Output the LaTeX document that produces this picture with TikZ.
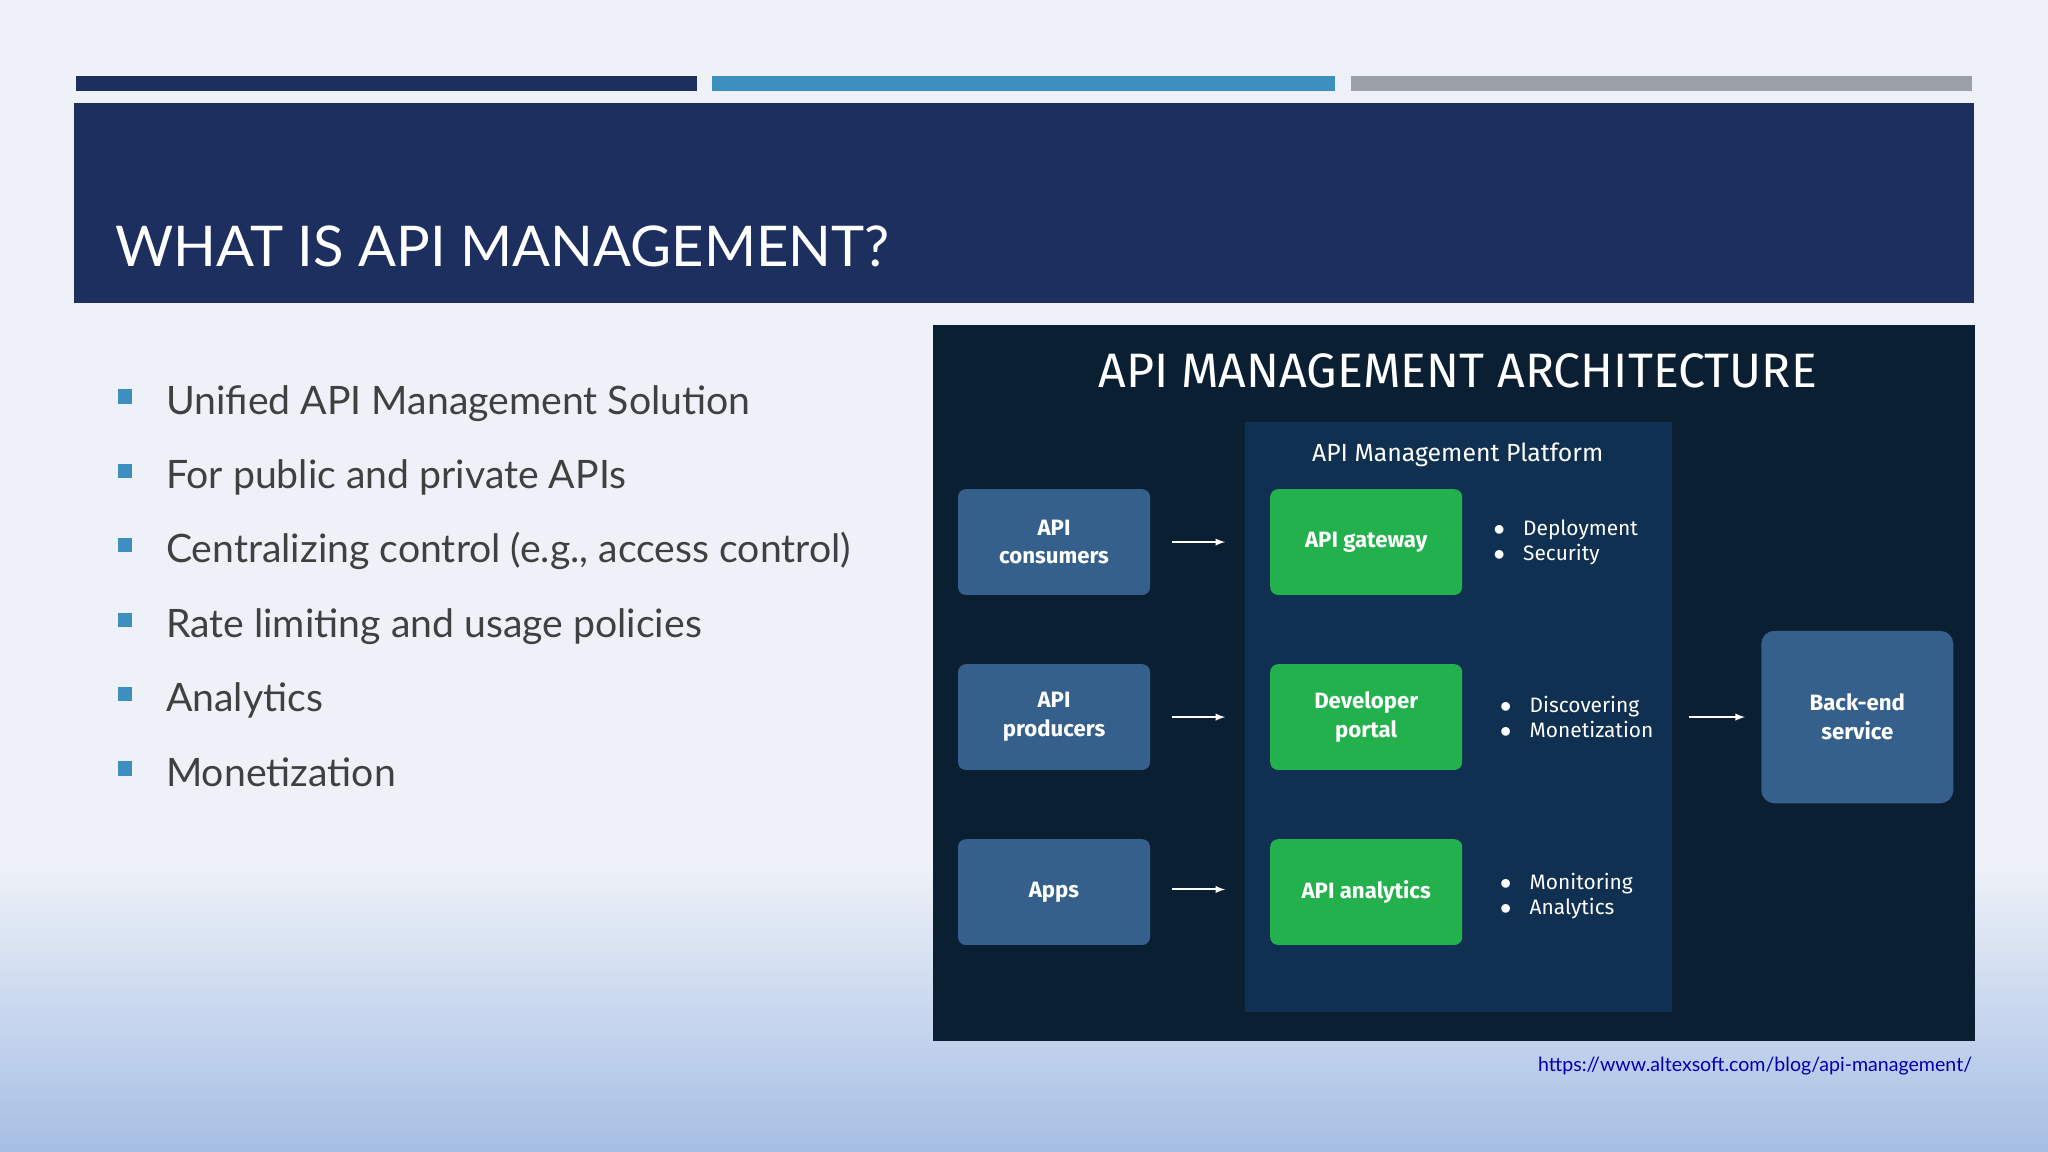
\documentclass[tikz,border=0pt]{standalone}
\usepackage{fontspec}
\setmainfont{Lato}
\newfontfamily\fira{Fira Sans}
\begin{document}
\begin{tikzpicture}[x=1pt,y=-1pt,
  sbox/.style={rounded corners=6pt,minimum width=147pt,inner sep=0pt,align=center,text=white,font=\fira\bfseries\fontsize{17}{22}\selectfont},
  lbox/.style={sbox,fill=leftc,minimum height=81pt},
  gbox/.style={sbox,fill=greenc,minimum height=81pt},
  arr/.style={white,line width=1.5pt,-latex},
  btxt/.style={anchor=west,text=white,align=left,font=\fira\fontsize{16}{19}\selectfont},
  item/.style={anchor=base west,text=textc,font=\fontsize{30}{36}\selectfont}]
\definecolor{navy}{HTML}{1C2F5E}\definecolor{lblue}{HTML}{3D8FC0}\definecolor{grayb}{HTML}{9AA0A6}
\definecolor{panel}{HTML}{0B1F33}\definecolor{plat}{HTML}{0F3050}\definecolor{leftc}{HTML}{35608C}
\definecolor{greenc}{HTML}{22B14C}\definecolor{textc}{HTML}{404040}\definecolor{bgtop}{HTML}{EEF2F8}\definecolor{bgbot}{HTML}{A6BEE4}
\useasboundingbox (0,0) rectangle (1568,882);
\fill[bgtop] (0,0) rectangle (1568,660);
\shade[top color=bgtop,bottom color=bgbot] (0,660) rectangle (1568,882);
\fill[navy] (58,58) rectangle (534,70);
\fill[lblue] (545,58) rectangle (1022,70);
\fill[grayb] (1034,58) rectangle (1510,70);
\fill[navy] (57,79) rectangle (1511,232);
\node[anchor=base west,text=white,font=\fontsize{43}{48}\selectfont,inner sep=0pt] (title) at (88,204) {WHAT IS API MANAGEMENT?};
\foreach \t [count=\i] in {Unified API Management Solution,For public and private APIs,{Centralizing control (e.g., access control)},Rate limiting and usage policies,Analytics,Monetization}{
  \fill[lblue] (90,{307+57*(\i-1)-9}) rectangle ++(11,11);
  \node[item,inner sep=0pt] (it\i) at (127,{307+57*(\i-1)+10}) {\t};
}
\fill[panel] (714,249) rectangle (1512,797);
\node[text=white,font=\fira\fontsize{37}{42}\selectfont] (ptitle) at (1116,284) {API MANAGEMENT ARCHITECTURE};
\fill[plat] (953,323) rectangle (1280,775);
\node[text=white,font=\fira\fontsize{19}{23}\selectfont] (plab) at (1116,348) {API Management Platform};
\node[lbox] (c) at (807,415) {API\\consumers};
\node[lbox] (p) at (807,549) {API\\producers};
\node[lbox] (a) at (807,683) {Apps};
\node[gbox] (g) at (1046,415) {API gateway};
\node[gbox] (d) at (1046,549) {Developer\\portal};
\node[gbox] (an) at (1046,683) {API analytics};
\node[lbox,minimum height=132pt,rounded corners=10pt] (b) at (1422,549) {Back-end\\service};
\coordinate (c1) at (897,415);\coordinate (c2) at (938,415);
\coordinate (p1) at (897,549);\coordinate (p2) at (938,549);
\coordinate (a1) at (897,681);\coordinate (a2) at (938,681);
\coordinate (b1) at (1293,549);\coordinate (b2) at (1336,549);
\draw[arr] (c1)--(c2);\draw[arr] (p1)--(p2);\draw[arr] (a1)--(a2);\draw[arr] (b1)--(b2);
\node[btxt] (t1) at (1140,415) {$\bullet$\hspace{14pt}Deployment\\$\bullet$\hspace{14pt}Security};
\node[btxt] (t2) at (1145,549) {$\bullet$\hspace{14pt}Discovering\\$\bullet$\hspace{14pt}Monetization};
\node[btxt] (t3) at (1145,686) {$\bullet$\hspace{14pt}Monitoring\\$\bullet$\hspace{14pt}Analytics};
\node[anchor=base east,text=blue!70!black,font=\fontsize{15}{17}\selectfont,inner sep=0pt] (url) at (1510,820) {https://www.altexsoft.com/blog/api-management/};
\end{tikzpicture}
\end{document}
